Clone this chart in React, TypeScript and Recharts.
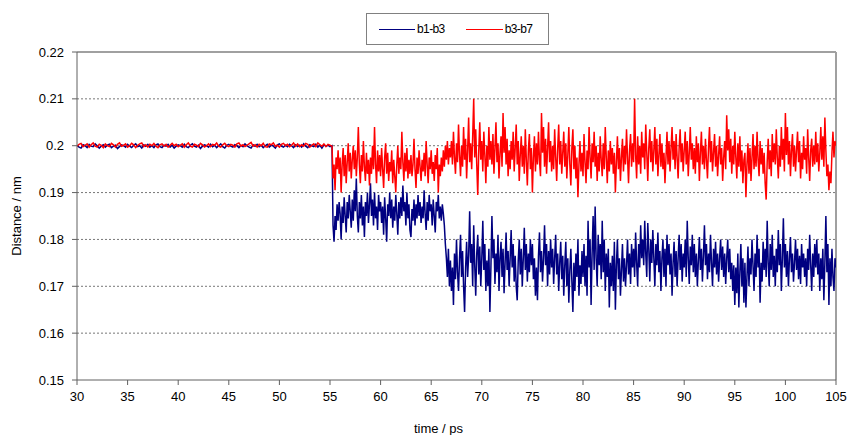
import React from "react";
import { LineChart, Line, XAxis, YAxis, CartesianGrid, Legend, ReferenceLine } from "recharts";

// time ticks (ps) and distance ticks (nm)
const xTicks = [30, 35, 40, 45, 50, 55, 60, 65, 70, 75, 80, 85, 90, 95, 100, 105];
const yTicks = [0.15, 0.16, 0.17, 0.18, 0.19, 0.2, 0.21, 0.22];

// sampling of the trajectory: 30.0–55.2 ps every 0.2 ps, then 55.3–105.0 ps every 0.1 ps
const flatStart = 30;
const flatStep = 0.2;
const noisyStart = 55.3;
const noisyStep = 0.1;

// b1-b3 distance (nm), 30.0–55.2 ps
const b1b3Flat = [
  0.2001, 0.1997, 0.1995, 0.2002, 0.2000, 0.1996, 0.2003, 0.1999, 0.1998, 0.2004,
  0.2000, 0.1995, 0.1999, 0.2002, 0.1997, 0.2001, 0.2003, 0.1996, 0.1999, 0.2001,
  0.1994, 0.1998, 0.2002, 0.2000, 0.1997, 0.2003, 0.1999, 0.1996, 0.2001, 0.2004,
  0.1998, 0.2000, 0.1995, 0.2002, 0.1999, 0.2003, 0.1997, 0.2000, 0.1996, 0.2002,
  0.2004, 0.1998, 0.1996, 0.2001, 0.1999, 0.2003, 0.1997, 0.2001, 0.1995, 0.1999,
  0.2002, 0.2000, 0.1997, 0.2003, 0.1998, 0.1996, 0.2001, 0.2004, 0.1999, 0.1997,
  0.2001, 0.1994, 0.1999, 0.2002, 0.2000, 0.1997, 0.2003, 0.1998, 0.2001, 0.1996,
  0.2000, 0.2004, 0.1998, 0.1995, 0.2001, 0.2003, 0.1999, 0.1997, 0.2002, 0.2000,
  0.1996, 0.2001, 0.1998, 0.2004, 0.2000, 0.1997, 0.1995, 0.2002, 0.1999, 0.2003,
  0.1998, 0.2001, 0.1996, 0.2000, 0.2003, 0.1997, 0.2001, 0.1999, 0.1995, 0.2002,
  0.2004, 0.1999, 0.1997, 0.2001, 0.1998, 0.2003, 0.2000, 0.1996, 0.2002, 0.1998,
  0.2001, 0.1997, 0.2004, 0.1999, 0.1996, 0.2002, 0.2000, 0.1998, 0.2003, 0.1997,
  0.2001, 0.1995, 0.2002, 0.1999, 0.2001, 0.1998, 0.2000,
];

// b3-b7 distance (nm), 30.0–55.2 ps
const b3b7Flat = [
  0.1999, 0.2003, 0.2005, 0.1998, 0.2001, 0.2004, 0.1997, 0.2002, 0.2006, 0.1999,
  0.1997, 0.2003, 0.2001, 0.1996, 0.2004, 0.2000, 0.1998, 0.2005, 0.2002, 0.1997,
  0.2003, 0.2006, 0.1999, 0.2001, 0.2004, 0.1997, 0.2000, 0.2005, 0.2002, 0.1996,
  0.2001, 0.2004, 0.2006, 0.1998, 0.2002, 0.1997, 0.2003, 0.2000, 0.2005, 0.1999,
  0.1996, 0.2002, 0.2004, 0.1999, 0.2003, 0.1997, 0.2001, 0.2005, 0.2000, 0.2003,
  0.1998, 0.2001, 0.2004, 0.1997, 0.2002, 0.2006, 0.1999, 0.1997, 0.2003, 0.2001,
  0.1998, 0.2005, 0.2002, 0.1997, 0.2000, 0.2004, 0.1998, 0.2003, 0.2001, 0.2006,
  0.1999, 0.1997, 0.2002, 0.2005, 0.2000, 0.1998, 0.2003, 0.2001, 0.1997, 0.2004,
  0.2006, 0.1999, 0.2002, 0.1998, 0.2001, 0.2004, 0.2007, 0.1999, 0.2002, 0.1997,
  0.2003, 0.2000, 0.2005, 0.1998, 0.1997, 0.2004, 0.2002, 0.2006, 0.1999, 0.2001,
  0.1997, 0.2003, 0.2005, 0.2000, 0.2003, 0.1998, 0.2001, 0.2006, 0.1999, 0.2004,
  0.1998, 0.2002, 0.1999, 0.2005, 0.2003, 0.1997, 0.2001, 0.2004, 0.1998, 0.2006,
  0.2002, 0.1999, 0.2004, 0.1998, 0.2003, 0.2001, 0.1999,
];

// b1-b3 distance (nm), 55.3–105.0 ps
const b1b3Noisy = [
  0.1830, 0.1795, 0.1850, 0.1820, 0.1875, 0.1840, 0.1880,
  0.1855, 0.1800, 0.1870, 0.1835, 0.1890, 0.1850, 0.1815, 0.1880, 0.1845, 0.1895,
  0.1860, 0.1825, 0.1885, 0.1840, 0.1905, 0.1860, 0.1930, 0.1850, 0.1815, 0.1880,
  0.1845, 0.1895, 0.1830, 0.1870, 0.1805, 0.1880, 0.1850, 0.1900, 0.1835, 0.1875,
  0.1920, 0.1850, 0.1885, 0.1830, 0.1900, 0.1845, 0.1870, 0.1820, 0.1895, 0.1860,
  0.1880, 0.1835, 0.1870, 0.1810, 0.1890, 0.1845, 0.1795, 0.1875, 0.1850, 0.1900,
  0.1845, 0.1885, 0.1825, 0.1870, 0.1840, 0.1895, 0.1855, 0.1810, 0.1880, 0.1845,
  0.1890, 0.1850, 0.1915, 0.1860, 0.1880, 0.1830, 0.1900, 0.1845, 0.1875, 0.1820,
  0.1805, 0.1865, 0.1840, 0.1885, 0.1830, 0.1875, 0.1845, 0.1895, 0.1850, 0.1880,
  0.1835, 0.1870, 0.1845, 0.1905, 0.1855, 0.1820, 0.1880, 0.1840, 0.1895, 0.1860,
  0.1875, 0.1830, 0.1885, 0.1850, 0.1815, 0.1880, 0.1860, 0.1895, 0.1845, 0.1870,
  0.1840, 0.1875, 0.1855, 0.1830, 0.1790, 0.1760, 0.1720, 0.1780, 0.1700, 0.1755,
  0.1690, 0.1740, 0.1660, 0.1770, 0.1715, 0.1800, 0.1730, 0.1690, 0.1760, 0.1810,
  0.1720, 0.1775, 0.1700, 0.1645, 0.1740, 0.1795, 0.1720, 0.1765, 0.1860, 0.1750,
  0.1790, 0.1700, 0.1830, 0.1745, 0.1680, 0.1770, 0.1810, 0.1725, 0.1785, 0.1700,
  0.1760, 0.1840, 0.1735, 0.1790, 0.1690, 0.1755, 0.1700, 0.1780, 0.1645, 0.1740,
  0.1850, 0.1760, 0.1800, 0.1705, 0.1770, 0.1730, 0.1810, 0.1690, 0.1760, 0.1795,
  0.1720, 0.1780, 0.1685, 0.1750, 0.1815, 0.1735, 0.1775, 0.1700, 0.1760, 0.1820,
  0.1740, 0.1790, 0.1710, 0.1765, 0.1700, 0.1670, 0.1755, 0.1800, 0.1725, 0.1780,
  0.1700, 0.1760, 0.1825, 0.1735, 0.1790, 0.1710, 0.1770, 0.1730, 0.1800, 0.1745,
  0.1790, 0.1715, 0.1760, 0.1680, 0.1740, 0.1670, 0.1765, 0.1815, 0.1730, 0.1775,
  0.1710, 0.1760, 0.1830, 0.1745, 0.1790, 0.1700, 0.1775, 0.1725, 0.1800, 0.1740,
  0.1780, 0.1705, 0.1760, 0.1810, 0.1725, 0.1770, 0.1690, 0.1750, 0.1795, 0.1715,
  0.1765, 0.1680, 0.1745, 0.1795, 0.1700, 0.1760, 0.1665, 0.1735, 0.1780, 0.1710,
  0.1645, 0.1750, 0.1690, 0.1770, 0.1720, 0.1800, 0.1680, 0.1745, 0.1705, 0.1775,
  0.1720, 0.1790, 0.1700, 0.1765, 0.1680, 0.1840, 0.1740, 0.1800, 0.1660, 0.1770,
  0.1850, 0.1735, 0.1870, 0.1760, 0.1700, 0.1810, 0.1745, 0.1790, 0.1715, 0.1840,
  0.1730, 0.1800, 0.1690, 0.1770, 0.1720, 0.1780, 0.1655, 0.1750, 0.1700, 0.1765,
  0.1690, 0.1795, 0.1650, 0.1745, 0.1800, 0.1715, 0.1760, 0.1680, 0.1735, 0.1790,
  0.1710, 0.1760, 0.1700, 0.1745, 0.1800, 0.1725, 0.1770, 0.1705, 0.1790, 0.1740,
  0.1780, 0.1720, 0.1815, 0.1750, 0.1700, 0.1790, 0.1740, 0.1830, 0.1760, 0.1800,
  0.1745, 0.1840, 0.1770, 0.1720, 0.1835, 0.1780, 0.1710, 0.1800, 0.1750, 0.1820,
  0.1760, 0.1700, 0.1790, 0.1745, 0.1815, 0.1730, 0.1775, 0.1690, 0.1760, 0.1800,
  0.1720, 0.1780, 0.1700, 0.1810, 0.1745, 0.1790, 0.1725, 0.1770, 0.1680, 0.1750,
  0.1795, 0.1720, 0.1775, 0.1700, 0.1760, 0.1810, 0.1735, 0.1790, 0.1710, 0.1770,
  0.1740, 0.1800, 0.1720, 0.1840, 0.1760, 0.1705, 0.1785, 0.1745, 0.1810, 0.1730,
  0.1790, 0.1720, 0.1770, 0.1700, 0.1755, 0.1805, 0.1735, 0.1780, 0.1710, 0.1765,
  0.1830, 0.1745, 0.1790, 0.1715, 0.1770, 0.1730, 0.1810, 0.1750, 0.1700, 0.1780,
  0.1740, 0.1795, 0.1725, 0.1770, 0.1710, 0.1760, 0.1800, 0.1735, 0.1785, 0.1720,
  0.1770, 0.1705, 0.1760, 0.1800, 0.1730, 0.1780, 0.1715, 0.1750, 0.1690, 0.1745,
  0.1660, 0.1740, 0.1685, 0.1770, 0.1655, 0.1730, 0.1790, 0.1700, 0.1760, 0.1665,
  0.1750, 0.1655, 0.1720, 0.1785, 0.1700, 0.1760, 0.1725, 0.1800, 0.1745, 0.1690,
  0.1770, 0.1720, 0.1810, 0.1740, 0.1780, 0.1665, 0.1750, 0.1710, 0.1795, 0.1735,
  0.1780, 0.1720, 0.1840, 0.1750, 0.1700, 0.1790, 0.1735, 0.1810, 0.1720, 0.1765,
  0.1700, 0.1780, 0.1730, 0.1820, 0.1745, 0.1790, 0.1690, 0.1760, 0.1845, 0.1740,
  0.1790, 0.1720, 0.1775, 0.1700, 0.1760, 0.1805, 0.1730, 0.1770, 0.1710, 0.1750,
  0.1800, 0.1735, 0.1780, 0.1715, 0.1765, 0.1705, 0.1790, 0.1740, 0.1770, 0.1720,
  0.1760, 0.1700, 0.1780, 0.1735, 0.1810, 0.1745, 0.1690, 0.1770, 0.1720, 0.1790,
  0.1740, 0.1800, 0.1725, 0.1770, 0.1690, 0.1760, 0.1715, 0.1780, 0.1670, 0.1750,
  0.1850, 0.1730, 0.1790, 0.1660, 0.1760, 0.1700, 0.1780, 0.1720, 0.1690, 0.1760,
  0.1740,
];

// b3-b7 distance (nm), 55.3–105.0 ps
const b3b7Noisy = [
  0.1930, 0.1960, 0.1905, 0.1975, 0.1950, 0.1990, 0.1940,
  0.1975, 0.1900, 0.1960, 0.1995, 0.1935, 0.1980, 0.1920, 0.1965, 0.2005, 0.1945,
  0.1985, 0.1930, 0.1970, 0.2000, 0.1950, 0.1990, 0.1935, 0.1975, 0.2040, 0.1960,
  0.1920, 0.1980, 0.1945, 0.2010, 0.1955, 0.1925, 0.1985, 0.1940, 0.1970, 0.1915,
  0.1975, 0.1940, 0.2000, 0.1950, 0.2040, 0.1960, 0.1920, 0.1990, 0.1945, 0.1980,
  0.1935, 0.1995, 0.1950, 0.1910, 0.1975, 0.2005, 0.1940, 0.1985, 0.1925, 0.1965,
  0.1945, 0.1990, 0.1920, 0.1970, 0.1935, 0.1900, 0.1960, 0.2000, 0.1940, 0.1975,
  0.1950, 0.2030, 0.1965, 0.1925, 0.1985, 0.1945, 0.1995, 0.1930, 0.1970, 0.1940,
  0.1980, 0.1935, 0.1960, 0.2015, 0.1950, 0.1910, 0.1975, 0.1940, 0.1990, 0.1955,
  0.1925, 0.1970, 0.1945, 0.1985, 0.1935, 0.2010, 0.1960, 0.1920, 0.1975, 0.1950,
  0.1990, 0.1940, 0.1965, 0.1925, 0.1980, 0.1950, 0.1995, 0.1900, 0.1960, 0.1935,
  0.1975, 0.1945, 0.1990, 0.1955, 0.2000, 0.1970, 0.2010, 0.1960, 0.1995, 0.1975,
  0.2010, 0.1960, 0.2030, 0.1975, 0.1940, 0.2005, 0.1965, 0.2045, 0.1980, 0.1935,
  0.2000, 0.1955, 0.2040, 0.1970, 0.2015, 0.1930, 0.1990, 0.2060, 0.1965, 0.2005,
  0.1950, 0.2020, 0.2100, 0.1975, 0.2035, 0.1960, 0.1895, 0.1990, 0.2050, 0.1970,
  0.2010, 0.1945, 0.2030, 0.1980, 0.1920, 0.2000, 0.1955, 0.2040, 0.1970, 0.2010,
  0.1960, 0.2025, 0.1940, 0.1995, 0.2050, 0.1965, 0.2005, 0.1930, 0.1985, 0.2020,
  0.1955, 0.2070, 0.1985, 0.2040, 0.1960, 0.2015, 0.1935, 0.1990, 0.1950, 0.2010,
  0.1970, 0.2030, 0.1945, 0.1995, 0.2045, 0.1960, 0.2010, 0.1925, 0.1980, 0.2020,
  0.1955, 0.2000, 0.1940, 0.2035, 0.1970, 0.1915, 0.1990, 0.2025, 0.1950, 0.1995,
  0.1900, 0.1975, 0.2020, 0.1945, 0.2005, 0.1960, 0.2030, 0.1970, 0.1935, 0.2070,
  0.1985, 0.2040, 0.1955, 0.2015, 0.1940, 0.1995, 0.2050, 0.1965, 0.2010, 0.1945,
  0.2000, 0.1950, 0.2035, 0.1975, 0.1925, 0.1995, 0.2045, 0.1960, 0.2010, 0.1940,
  0.1985, 0.2030, 0.1955, 0.2005, 0.1930, 0.1980, 0.2040, 0.1960, 0.1915, 0.1995,
  0.2035, 0.1950, 0.2000, 0.1930, 0.1975, 0.1890, 0.1960, 0.2010, 0.1945, 0.1985,
  0.1935, 0.2025, 0.1965, 0.1920, 0.1990, 0.1950, 0.2040, 0.1975, 0.1930, 0.2005,
  0.1965, 0.2030, 0.1955, 0.2000, 0.1925, 0.1985, 0.1945, 0.2020, 0.1970, 0.1935,
  0.2005, 0.1950, 0.2040, 0.1975, 0.1920, 0.1990, 0.1945, 0.2010, 0.1960, 0.1995,
  0.1940, 0.1985, 0.1900, 0.1965, 0.2020, 0.1950, 0.1995, 0.1925, 0.1975, 0.2015,
  0.1945, 0.2000, 0.1960, 0.2035, 0.1975, 0.1920, 0.1990, 0.2025, 0.1955, 0.2005,
  0.1965, 0.2100, 0.1980, 0.1930, 0.2020, 0.1960, 0.2000, 0.1940, 0.2030, 0.1975,
  0.2005, 0.1950, 0.2045, 0.1985, 0.1925, 0.1995, 0.2035, 0.1965, 0.2010, 0.1945,
  0.1990, 0.2040, 0.1960, 0.2015, 0.1935, 0.1980, 0.2025, 0.1955, 0.2005, 0.1950,
  0.1985, 0.1920, 0.1975, 0.2030, 0.1960, 0.2010, 0.1945, 0.1995, 0.2040, 0.1970,
  0.2010, 0.1950, 0.2025, 0.1975, 0.1930, 0.1995, 0.2035, 0.1965, 0.2005, 0.1945,
  0.1990, 0.2030, 0.1960, 0.2010, 0.1935, 0.1985, 0.2040, 0.1970, 0.2005, 0.1950,
  0.1995, 0.1940, 0.2020, 0.1965, 0.2005, 0.1925, 0.1985, 0.2030, 0.1960, 0.2000,
  0.1950, 0.2015, 0.1970, 0.1930, 0.1995, 0.2040, 0.1965, 0.2010, 0.1945, 0.1985,
  0.2025, 0.1955, 0.2000, 0.1935, 0.1980, 0.2020, 0.1960, 0.1995, 0.1925, 0.1975,
  0.2010, 0.1950, 0.2065, 0.1990, 0.2035, 0.1965, 0.2015, 0.1940, 0.2000, 0.1960,
  0.2030, 0.1975, 0.1930, 0.2005, 0.1955, 0.2020, 0.1945, 0.1990, 0.1920, 0.1970,
  0.1985, 0.1890, 0.1960, 0.2005, 0.1940, 0.1995, 0.1925, 0.1975, 0.2025, 0.1950,
  0.2000, 0.1955, 0.2030, 0.1970, 0.1935, 0.2010, 0.1960, 0.1995, 0.1940, 0.1985,
  0.1920, 0.1885, 0.1965, 0.2015, 0.1950, 0.1990, 0.1935, 0.2025, 0.1965, 0.2005,
  0.1960, 0.2035, 0.1975, 0.1930, 0.2000, 0.1955, 0.2040, 0.1970, 0.2015, 0.1945,
  0.2070, 0.1980, 0.2040, 0.1960, 0.2010, 0.1935, 0.1990, 0.2025, 0.1955, 0.2000,
  0.1945, 0.1990, 0.2030, 0.1965, 0.2010, 0.1930, 0.1985, 0.1950, 0.2020, 0.1970,
  0.1995, 0.1940, 0.2035, 0.1975, 0.1925, 0.1990, 0.2015, 0.1955, 0.2000, 0.1960,
  0.2030, 0.1965, 0.2005, 0.1945, 0.1985, 0.2040, 0.1970, 0.2020, 0.1955, 0.2060,
  0.1990, 0.1935, 0.1960, 0.1905, 0.1945, 0.1920, 0.1985, 0.2030, 0.1975, 0.2010,
  0.2000,
];

type Row = { t: number; b1b3: number; b3b7: number };

const data: Row[] = [];
for (let i = 0; i < Math.min(b1b3Flat.length, b3b7Flat.length); i++) {
  data.push({ t: +(flatStart + i * flatStep).toFixed(2), b1b3: b1b3Flat[i], b3b7: b3b7Flat[i] });
}
for (let i = 0; i < Math.min(b1b3Noisy.length, b3b7Noisy.length); i++) {
  data.push({ t: +(noisyStart + i * noisyStep).toFixed(2), b1b3: b1b3Noisy[i], b3b7: b3b7Noisy[i] });
}

const FONT = "'Liberation Sans', Arial, sans-serif";
const NAVY = "#000080";
const RED = "#FF0000";

const LegendBox = () => (
  <div
    style={{
      width: 181,
      height: 30,
      border: "1px solid #808080",
      background: "#fff",
      fontFamily: FONT,
      fontSize: 12,
      color: "#000",
      display: "flex",
      alignItems: "center",
      boxSizing: "content-box",
    }}
  >
    <span style={{ display: "inline-block", width: 36, height: 0, borderTop: `1.5px solid ${NAVY}`, marginLeft: 12 }} />
    <span style={{ marginLeft: 2, letterSpacing: -0.6 }}>b1-b3</span>
    <span style={{ display: "inline-block", width: 37, height: 0, borderTop: `1.5px solid ${RED}`, marginLeft: 21 }} />
    <span style={{ marginLeft: 2, letterSpacing: -0.6 }}>b3-b7</span>
  </div>
);

export default function App() {
  return (
    <div style={{ position: "absolute", left: 0, top: 0, width: 849, height: 435, background: "#fff" }}>
      <LineChart width={849} height={435} data={data} margin={{ top: 52, right: 13, left: 0, bottom: 0 }}>
        <CartesianGrid
          vertical={false}
          horizontalValues={[0.16, 0.17, 0.18, 0.19, 0.2, 0.21]}
          stroke="#777"
          strokeDasharray="2 2"
        />
        <XAxis
          dataKey="t"
          type="number"
          domain={[30, 105]}
          ticks={xTicks}
          allowDataOverflow
          height={55}
          stroke="#606060"
          tickSize={5}
          tick={{ fontFamily: FONT, fontSize: 13, fill: "#000" }}
          tickMargin={7}
          label={{ value: "time / ps", position: "insideBottom", offset: 2, dx: -18, style: { fontFamily: FONT, fontSize: 13, fill: "#000" } }}
        />
        <YAxis
          type="number"
          domain={[0.15, 0.22]}
          ticks={yTicks}
          allowDataOverflow
          width={77}
          stroke="#606060"
          tickSize={5}
          tickMargin={8}
          tick={{ fontFamily: FONT, fontSize: 13, fill: "#000" }}
          tickFormatter={(v: number) => String(+v.toFixed(2))}
          label={{ value: "Distance / nm", angle: -90, position: "insideLeft", offset: 16, style: { fontFamily: FONT, fontSize: 13, fill: "#000", textAnchor: "middle" } }}
        />
        <ReferenceLine y={0.22} stroke="#a0a0a0" strokeWidth={2} />
        <ReferenceLine x={105} stroke="#a0a0a0" strokeWidth={2} />
        <Legend
          layout="horizontal"
          verticalAlign="middle"
          align="center"
          content={<LegendBox />}
          wrapperStyle={{ position: "absolute", left: 366, top: 13, width: 183, height: 32 }}
        />
        <Line dataKey="b1b3" name="b1-b3" stroke={NAVY} strokeWidth={1.5} dot={false} isAnimationActive={false} type="linear" />
        <Line dataKey="b3b7" name="b3-b7" stroke={RED} strokeWidth={1.5} dot={false} isAnimationActive={false} type="linear" />
      </LineChart>
    </div>
  );
}
